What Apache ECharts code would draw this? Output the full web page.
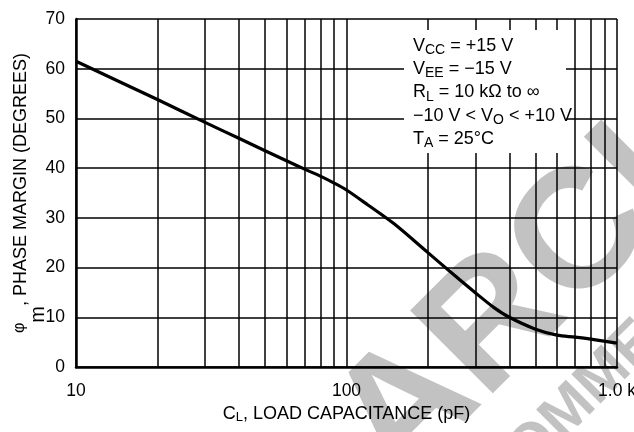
<!DOCTYPE html>
<html>
<head>
<meta charset="utf-8">
<script src="https://cdn.jsdelivr.net/npm/echarts@6/dist/echarts.min.js"></script>
<style>
  html, body { margin: 0; padding: 0; background: #fff; }
  #chart { width: 634px; height: 432px; }
</style>
</head>
<body>
<div id="chart"></div>
<script>
// load capacitance (pF) vs phase margin (degrees)
const capacitance = [10, 20, 30, 40, 50, 60, 70, 80, 90, 100, 120, 150, 200, 250, 300, 350, 400, 500, 600, 700, 800, 1000];
const phaseMargin = [61.5, 53.8, 49.2, 46.0, 43.5, 41.5, 39.8, 38.4, 37.0, 35.6, 32.6, 28.8, 23.0, 18.5, 14.9, 12.0, 10.0, 7.6, 6.4, 6.0, 5.6, 4.8];

const xTickValues = [10, 100, 1000];
const xTickLabels = ['10', '100', '1.0 k'];
const xMinorGrid = [20, 30, 40, 50, 60, 70, 80, 90, 200, 300, 400, 500, 600, 700, 800, 900];

const conditions = [
  '{t|V}{s|CC}{t| = +15 V}',
  '{t|V}{s|EE}{t| = \u221215 V}',
  '{t|R}{s|L}{t| = 10 k\u03A9 to \u221E}',
  '{t|\u221210 V < V}{s|O}{t| < +10 V}',
  '{t|T}{s|A}{t| = 25\u00B0C}'
];

const watermarkMain = 'ARCHIVE INFORMATION';
const watermarkSub = 'NOT RECOMMENDED FOR NEW DESIGN';

const FONT = "'Liberation Sans', Arial, sans-serif";
const INK = '#000';
const WM = '#c2c2c2';

const chart = echarts.init(document.getElementById('chart'), null, { renderer: 'canvas' });

const option = {
  animation: false,
  backgroundColor: '#fff',
  textStyle: { fontFamily: FONT },
  grid: { left: 76, top: 19, width: 541, height: 348, containLabel: false, outerBoundsMode: 'none' },
  xAxis: {
    type: 'log',
    logBase: 10,
    min: 10,
    max: 1000,
    name: '{t|C}{s|L}{t|, LOAD CAPACITANCE (pF)}',
    nameLocation: 'middle',
    nameGap: 37,
    nameMoveOverlap: false,
    nameTextStyle: {
      rich: {
        t: { fontFamily: FONT, fontSize: 18, color: INK, lineHeight: 20 },
        s: { fontFamily: FONT, fontSize: 13, color: INK, lineHeight: 10, verticalAlign: 'bottom' }
      }
    },
    axisLine: { show: true, lineStyle: { color: INK, width: 2.5 } },
    axisTick: { show: false },
    axisLabel: {
      color: INK,
      fontFamily: FONT,
      fontSize: 17.5,
      margin: 15,
      showMinLabel: true,
      showMaxLabel: true,
      formatter: (v) => {
        const i = xTickValues.findIndex((t) => Math.abs(t - v) < 1e-6 * t);
        return i >= 0 ? xTickLabels[i] : '';
      }
    },
    splitLine: { show: true, lineStyle: { color: INK, width: 1.5 } }
  },
  yAxis: {
    type: 'value',
    min: 0,
    max: 70,
    interval: 10,
    name: '{p|\u03C6}{s|m}{t|, PHASE MARGIN (DEGREES)}',
    nameLocation: 'middle',
    nameRotate: 90,
    nameGap: 44,
    nameMoveOverlap: false,
    nameTextStyle: {
      rich: {
        p: { fontFamily: FONT, fontSize: 16, color: INK, lineHeight: 20, verticalAlign: 'top' },
        t: { fontFamily: FONT, fontSize: 18, color: INK, lineHeight: 20, verticalAlign: 'top' },
        s: { fontFamily: FONT, fontSize: 20, color: INK, lineHeight: 20, verticalAlign: 'top', padding: [16, 0, 0, 0] }
      }
    },
    axisLine: { show: true, lineStyle: { color: INK, width: 2.5 } },
    axisTick: { show: false },
    axisLabel: { color: INK, fontFamily: FONT, fontSize: 17.5, margin: 11 },
    splitLine: { show: true, lineStyle: { color: INK, width: 1.5 } }
  },
  graphic: [
    {
      type: 'text',
      z: -1,
      x: 425,
      y: 515,
      rotation: Math.PI / 4,
      silent: true,
      style: {
        text: watermarkMain,
        font: "bold 170px 'Liberation Sans', Arial, sans-serif",
        fill: WM,
        textAlign: 'left',
        textVerticalAlign: 'bottom'
      }
    },
    {
      type: 'text',
      z: -1,
      x: 348,
      y: 675,
      rotation: Math.PI / 4,
      silent: true,
      style: {
        text: watermarkSub,
        font: "bold 60px 'Liberation Sans', Arial, sans-serif",
        fill: WM,
        textAlign: 'left',
        textVerticalAlign: 'bottom'
      }
    },
    {
      type: 'rect',
      z: 10,
      silent: true,
      shape: { x: 404, y: 30, width: 162, height: 123 },
      style: { fill: '#fff' }
    },
    {
      type: 'text',
      z: 11,
      x: 413,
      y: 34,
      silent: true,
      style: {
        text: conditions.join('\n'),
        textAlign: 'left',
        textVerticalAlign: 'top',
        rich: {
          t: { fontFamily: FONT, fontSize: 18, fill: INK, lineHeight: 23.3 },
          s: { fontFamily: FONT, fontSize: 14, fill: INK, lineHeight: 12, verticalAlign: 'bottom' }
        }
      }
    }
  ],
  series: [
    {
      // minor decade grid lines
      type: 'line',
      data: [],
      z: 1,
      silent: true,
      markLine: {
        silent: true,
        symbol: 'none',
        label: { show: false },
        lineStyle: { color: INK, width: 1.5, type: 'solid' },
        data: xMinorGrid.map((v) => ({ xAxis: v }))
      }
    },
    {
      name: 'Phase margin',
      type: 'line',
      z: 5,
      smooth: 0.3,
      showSymbol: false,
      lineStyle: { color: INK, width: 3.2 },
      data: capacitance.map((c, i) => [c, phaseMargin[i]])
    }
  ]
};

chart.setOption(option);
</script>
</body>
</html>
